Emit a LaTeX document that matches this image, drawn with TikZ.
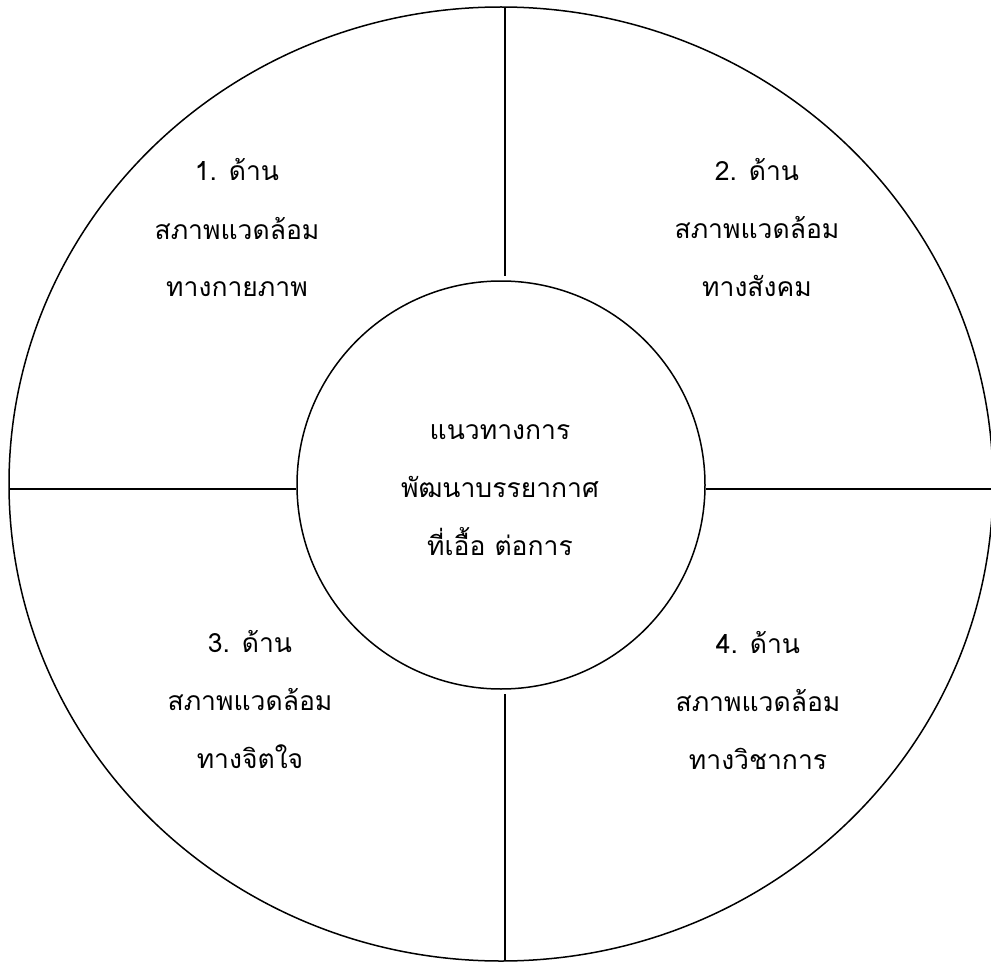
\documentclass[tikz,border=0pt]{standalone}
\usepackage{fontspec}
\usetikzlibrary{shapes.geometric}
\newfontfamily\thaifont[Script=Thai]{Loma}
\begin{document}
\begin{tikzpicture}[x=1pt,y=-1pt,
  lbl/.style={font=\thaifont\fontsize{26.5}{58}\selectfont, align=center, inner sep=0pt},
  ln/.style={line width=1.5pt}]
\useasboundingbox (0,0) rectangle (991,963);
\fill[white] (0,0) rectangle (991,963);
\node[ellipse,draw,ln,minimum width=984pt,minimum height=954pt,inner sep=0pt] (outer) at (501,484) {};
\node[circle,draw,ln,minimum size=408pt,inner sep=0pt,fill=white] (inner) at (501,485) {};
\coordinate (top) at (505,7.5);
\coordinate (bot) at (505,961);
\coordinate (lft) at (9,489);
\coordinate (rgt) at (991,489);
\draw[ln] (top) -- (505,276);
\draw[ln] (505,694) -- (bot);
\draw[ln] (lft) -- (inner.west |- 0,489);
\draw[ln] (inner.east |- 0,489) -- (rgt);
\node[lbl] (q1) at (237,228) {1. ด้าน\\สภาพแวดล้อม\\ทางกายภาพ};
\node[lbl] (q2) at (757,228) {2. ด้าน\\สภาพแวดล้อม\\ทางสังคม};
\node[lbl] (q3) at (250,700) {3. ด้าน\\สภาพแวดล้อม\\ทางจิตใจ};
\node[lbl] (q4) at (758,700) {4. ด้าน\\สภาพแวดล้อม\\ทางวิชาการ};
\node[lbl] (c) at (500,490) {แนวทางการ\\พัฒนาบรรยากาศ\\ที่เอื้อ ต่อการ};
\end{tikzpicture}
\end{document}
